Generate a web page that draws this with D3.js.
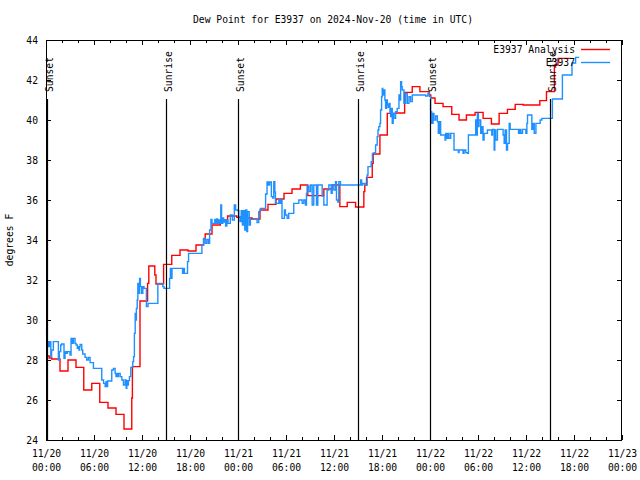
<!DOCTYPE html>
<html><head><meta charset="utf-8">
<script src="https://cdn.jsdelivr.net/npm/d3@7"></script>
<style>
body{margin:0;background:#fff}
svg{display:block}
text{font-family:"DejaVu Sans Mono","Liberation Mono",monospace;font-size:9.7px;fill:#000}
</style></head><body>
<svg id="chart" width="640" height="480"></svg>
<script>
// ---- data (hours since 2024-11-20 00:00 UTC, degrees F) ----
const titleText = "Dew Point for E3937 on 2024-Nov-20 (time in UTC)";
const yLabel = "degrees F";
const seriesNames = ["E3937 Analysis", "E3937"];
const seriesColors = ["#ff0000", "#1e90ff"];

const analysisHours = [0,0.4,0.72,1.75,2.75,3.75,4.72,5.72,6.72,7.75,8.75,9.75,10.72,10.8,11.75,12.7,12.85,13.6,13.75,14.7,15.72,16.75,17.75,18.75,19.7,19.9,20.75,21.8,22.7,23.85,24.75,25.75,26.75,27.75,28.75,29.75,30.75,31.8,32.72,34.73,35.77,36.73,37.65,38.7,39.73,39.85,40.07,40.78,40.9,41.74,42.66,43.7,44.83,45.78,46.74,47.9,48.1,48.63,49.63,50.72,51.63,52.55,53.64,54.64,55.68,56.64,57.68,58.65,59.65,61.73,62.56,63.55,64.0,65.6];
const analysisValues = [28.2,28.1,28.05,27.45,28.0,27.63,26.5,26.83,25.88,25.6,25.28,24.55,26.1,27.67,30.95,31.83,32.7,32.25,31.8,32.78,33.23,33.5,33.45,33.75,34.05,34.3,34.75,35.0,35.2,35.13,35.1,35.05,35.5,35.78,36.05,36.33,36.55,36.75,36.22,36.55,36.75,35.67,35.88,35.65,36.42,36.75,37.13,37.83,38.3,39.25,40.33,40.35,41.38,41.67,41.42,41.25,41.1,40.83,40.67,40.28,40.0,40.25,40.38,40.08,39.8,40.33,40.53,40.78,40.75,40.97,41.42,42.75,43.08,43.08];

const obsHours = [0.0,0.08,0.13,0.2,0.25,0.3,0.36,0.42,0.5,0.6,0.7,0.92,1.55,1.67,1.84,1.96,2.25,2.38,2.5,2.67,3.0,3.13,3.3,3.42,3.63,3.76,3.92,4.05,4.12,4.2,4.26,4.47,4.59,4.88,5.09,5.3,5.51,5.93,6.97,7.2,7.39,7.5,7.6,7.7,8.0,8.22,8.43,8.64,8.75,8.85,9.0,9.06,9.27,9.48,9.68,9.89,10.02,10.1,10.18,10.3,10.43,10.6,10.85,10.95,11.05,11.15,11.22,11.3,11.4,11.48,11.6,11.7,11.8,11.95,12.1,12.25,12.55,12.75,13.98,14.6,14.75,15.45,15.55,15.65,15.75,17.07,17.2,17.3,17.69,17.82,19.49,19.7,19.9,20.1,20.3,20.45,20.62,20.75,21.1,21.2,21.35,21.45,21.6,21.7,21.85,21.95,22.1,22.2,22.35,22.45,22.6,22.75,23.04,23.3,23.54,23.7,23.96,24.1,24.25,24.4,24.55,24.71,24.85,24.95,25.1,25.2,25.4,25.55,26.38,26.59,26.8,27.21,27.45,27.63,27.8,27.95,28.17,28.35,28.47,28.6,28.68,29.1,29.2,29.35,29.5,29.8,29.93,30.14,30.34,30.97,31.6,32.02,32.23,32.43,32.56,32.64,32.85,33.06,33.27,33.47,33.81,33.98,34.52,34.73,35.14,35.35,35.65,35.77,35.98,36.19,36.31,36.48,36.6,36.81,39.32,39.45,39.6,39.9,40.15,40.25,40.65,40.8,41.0,41.2,41.4,41.5,41.6,41.74,41.82,41.95,42.03,42.1,42.24,42.36,42.45,42.57,42.66,42.78,42.87,43.0,43.08,43.16,43.28,43.4,43.5,43.7,43.9,44.12,44.24,44.33,44.45,44.53,44.74,44.95,45.16,45.37,45.57,45.78,47.45,47.74,47.95,48.08,48.21,48.38,48.5,48.71,48.92,49.04,49.21,49.33,49.88,49.96,50.09,50.21,50.38,50.59,51.0,51.55,51.63,52.13,52.26,52.47,52.67,52.8,53.71,53.8,53.92,54.05,54.13,54.34,54.46,54.63,54.76,55.18,55.72,55.81,56.02,56.1,56.22,56.43,57.14,57.27,57.39,57.56,57.69,57.9,58.02,59.07,59.23,59.36,59.57,59.98,60.11,60.19,60.73,60.9,61.03,61.24,61.77,61.98,63.3,64.55,65.75,66.2,66.65];
const obsValues = [29.67,29.2,28.92,28.67,28.92,28.67,28.92,28.67,28.92,28.17,28.5,28.92,28.0,28.42,28.75,28.8,28.08,28.42,28.33,28.42,28.25,29.08,28.83,29.08,28.83,28.75,28.58,28.67,28.5,28.67,28.78,28.5,28.3,28.13,28.0,28.13,27.87,27.58,27.0,26.83,26.67,26.92,26.67,26.95,26.95,27.5,27.58,27.33,27.17,27.33,27.17,27.33,27.17,27.0,26.75,27.0,26.58,26.97,26.75,26.97,27.17,27.63,27.92,28.17,29.33,30.33,30.0,30.58,31.0,31.83,31.33,32.08,31.67,31.33,31.67,31.58,30.67,30.83,31.83,31.67,31.58,32.08,32.58,32.08,32.58,32.33,32.58,32.33,32.92,33.33,33.75,34.08,33.83,34.03,33.83,34.5,35.03,34.83,35.03,34.83,35.05,34.83,35.0,34.83,35.75,34.83,35.1,34.9,35.0,34.7,35.0,34.83,35.25,35.0,35.75,35.5,35.47,35.17,34.92,35.47,34.75,35.47,34.5,35.5,34.42,35.42,34.75,35.03,34.87,35.42,35.58,35.58,36.3,36.9,36.75,36.9,36.17,36.1,36.92,36.4,35.83,36.0,35.83,36.03,35.08,35.5,35.25,35.08,35.33,35.83,36.0,35.83,36.0,35.75,36.33,36.7,36.42,36.75,35.75,36.75,35.75,36.75,36.2,35.75,36.5,36.75,36.33,36.75,36.5,36.92,36.0,35.9,36.92,36.75,37.0,36.75,36.83,36.75,37.25,37.67,37.92,38.33,38.37,38.75,39.17,39.5,39.67,39.83,40.5,41.17,41.58,41.25,41.5,41.0,40.58,41.0,40.75,40.63,40.83,40.33,40.17,40.58,39.83,40.33,40.08,40.42,40.58,41.25,41.0,41.92,41.67,41.5,40.83,41.33,40.83,41.17,40.92,41.25,41.2,41.33,41.17,40.42,39.83,40.33,40.0,40.2,39.92,39.33,39.92,39.25,39.0,39.33,39.08,39.33,39.08,39.33,38.5,38.37,38.5,38.33,38.5,38.37,38.33,39.25,40.0,39.25,40.33,39.67,40.0,39.33,39.67,39.0,39.33,39.5,39.25,39.53,38.5,39.5,39.0,39.53,39.25,38.83,39.5,38.5,38.83,39.83,39.53,39.33,39.53,39.33,39.53,39.33,39.83,40.25,39.53,39.83,39.33,39.83,40.0,40.08,41.05,42.25,42.85,43.13,43.13];

const sunHours = [0.1, 15, 24, 39, 48, 63];
const sunLabels = ["Sunset","Sunrise","Sunset","Sunrise","Sunset","Sunrise"];

const xTickHours = [0,6,12,18,24,30,36,42,48,54,60,66,72];
const xTickDates = ["11/20","11/20","11/20","11/20","11/21","11/21","11/21","11/21","11/22","11/22","11/22","11/22","11/23"];
const xTickTimes = ["00:00","06:00","12:00","18:00","00:00","06:00","12:00","18:00","00:00","06:00","12:00","18:00","00:00"];
const yTicks = [24,26,28,30,32,34,36,38,40,42,44];

// ---- chart ----
const svg = d3.select("#chart");
const L = 46, R = 622, T = 40, B = 440;
const x = d3.scaleLinear().domain([0,72]).range([L,R]);
const y = d3.scaleLinear().domain([24,44]).range([B,T]);

const line = d3.line().x(d => x(d[0])).y(d => y(d[1])).curve(d3.curveStepAfter);
const analysis = analysisHours.map((h,i) => [h, analysisValues[i]]);
const obs = obsHours.map((h,i) => [h, obsValues[i]]);

svg.append("path").datum(analysis).attr("d", line)
  .attr("fill","none").attr("stroke",seriesColors[0]).attr("stroke-width",1.4);
svg.append("path").datum(obs).attr("d", line)
  .attr("fill","none").attr("stroke",seriesColors[1]).attr("stroke-width",1.4);

// sunrise / sunset markers
const sun = svg.append("g");
sunHours.forEach((h,i) => {
  const sx = Math.round(x(h)) + 0.5;
  sun.append("line").attr("x1",sx).attr("x2",sx).attr("y1",y(41.05)).attr("y2",B)
    .attr("stroke","#000").attr("stroke-width",1.2);
  sun.append("text").attr("transform",`translate(${sx+5},${y(41.4)}) rotate(-90)`)
    .attr("text-anchor","start").text(sunLabels[i]);
});

// axes
const xMajor = svg.append("g").attr("transform",`translate(0,${B})`)
  .call(d3.axisBottom(x).tickValues(xTickHours).tickSize(-5).tickSizeOuter(0).tickPadding(10).tickFormat((d,i)=>xTickDates[i]));
xMajor.select(".domain").remove();
xMajor.selectAll(".tick text").each(function(d,i){
  const t = d3.select(this); t.text(null);
  t.append("tspan").attr("x",0).text(xTickDates[i]);
  t.append("tspan").attr("x",0).attr("dy","14px").text(xTickTimes[i]);
});
xMajor.selectAll("text").attr("font-family",null).attr("font-size",null);
xMajor.attr("font-family",null).attr("font-size",null);

const minorTicks = d3.range(0,73,2);
const xMinor = svg.append("g").attr("transform",`translate(0,${B})`)
  .call(d3.axisBottom(x).tickValues(minorTicks).tickSize(-3).tickSizeOuter(0).tickFormat(""));
xMinor.select(".domain").remove();
const xTop = svg.append("g").attr("transform",`translate(0,${T})`)
  .call(d3.axisTop(x).tickValues(xTickHours).tickSize(-5).tickSizeOuter(0).tickFormat(""));
xTop.select(".domain").remove();
const xTopMinor = svg.append("g").attr("transform",`translate(0,${T})`)
  .call(d3.axisTop(x).tickValues(minorTicks).tickSize(-3).tickSizeOuter(0).tickFormat(""));
xTopMinor.select(".domain").remove();

const yLeft = svg.append("g").attr("transform",`translate(${L},0)`)
  .call(d3.axisLeft(y).tickValues(yTicks).tickSize(-5).tickSizeOuter(0).tickPadding(8));
yLeft.select(".domain").remove();
yLeft.attr("font-family",null).attr("font-size",null);
const yRight = svg.append("g").attr("transform",`translate(${R},0)`)
  .call(d3.axisRight(y).tickValues(yTicks).tickSize(-5).tickSizeOuter(0).tickFormat(""));
yRight.select(".domain").remove();

// border
svg.append("rect").attr("x",L+0.5).attr("y",T+0.5).attr("width",R-L-1).attr("height",B-T)
  .attr("fill","none").attr("stroke","#000").attr("stroke-width",1);

// title and y label
svg.append("text").attr("x",333).attr("y",23).attr("text-anchor","middle").text(titleText);
svg.append("text").attr("transform","translate(13,240) rotate(-90)").attr("text-anchor","middle").text(yLabel);

// legend
const legRows = [53, 66];
seriesNames.forEach((n,i) => {
  svg.append("text").attr("x",575).attr("y",legRows[i]).attr("text-anchor","end").text(n);
  svg.append("line").attr("x1",581).attr("x2",610).attr("y1",legRows[i]-3.5).attr("y2",legRows[i]-3.5)
    .attr("stroke",seriesColors[i]).attr("stroke-width",1.4);
});
</script></body></html>
